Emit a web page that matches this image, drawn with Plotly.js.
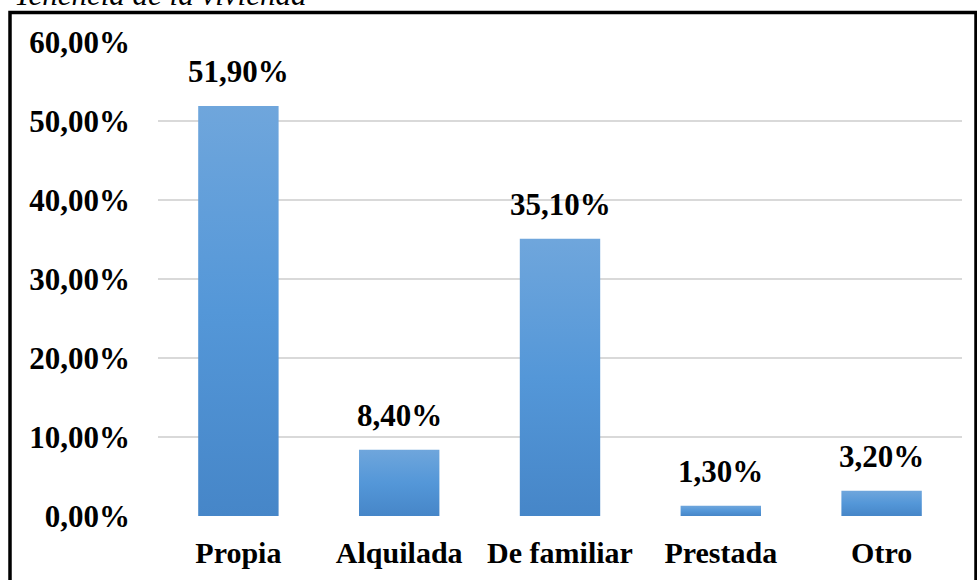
<!DOCTYPE html>
<html>
<head>
<meta charset="utf-8">
<script src="https://cdn.plot.ly/plotly-3.0.1.min.js"></script>
<style>
  html, body { margin: 0; padding: 0; background: #fff; }
  #chart { width: 977px; height: 580px; }
</style>
</head>
<body>
<div id="chart"></div>
<script>
const categories = ["Propia", "Alquilada", "De familiar", "Prestada", "Otro"];
const percents = [51.9, 8.4, 35.1, 1.3, 3.2];
const yTicks = [0, 10, 20, 30, 40, 50, 60];

const FONT = "'Liberation Serif', 'Times New Roman', serif";

const fmt = v => v.toFixed(2).replace(".", ",") + "%";

const trace = {
  type: "bar",
  x: categories,
  y: percents,
  marker: { color: "#5b9bd5", line: { width: 0 } },
  hoverinfo: "none",
};

// labels sit a bit higher than plotly's "outside" text, so use annotations
const labels = categories.map((c, i) => ({
  x: c,
  y: percents[i],
  text: "<b>" + fmt(percents[i]) + "</b>",
  showarrow: false,
  yanchor: "bottom",
  yshift: 15,
  font: { family: FONT, size: 31, color: "#000" },
}));

labels.push({
  xref: "paper", yref: "paper",
  x: -0.181, y: 1.059,
  xanchor: "left", yanchor: "bottom",
  text: "<i>Tenencia de la vivienda</i>",
  showarrow: false,
  font: { family: FONT, size: 31, color: "#000" },
});

const layout = {
  width: 977,
  height: 580,
  margin: { l: 158, r: 15, t: 42, b: 64 },
  paper_bgcolor: "#fff",
  plot_bgcolor: "#fff",
  separators: ",.",
  bargap: 0.5,
  showlegend: false,
  font: { family: FONT, size: 30, color: "#000" },
  xaxis: {
    type: "category",
    showgrid: false,
    showline: false,
    ticks: "",
    tickfont: { family: FONT, size: 30, color: "#000", weight: "bold" },
    ticklabelstandoff: 16,
  },
  yaxis: {
    range: [0, 60],
    tickvals: yTicks,
    ticktext: yTicks.map(t => "<b>" + fmt(t) + "</b>"),
    showgrid: true,
    gridcolor: "#d9d9d9",
    gridwidth: 2,
    zeroline: false,
    showline: false,
    ticks: "",
    tickfont: { family: FONT, size: 31, color: "#000" },
    ticklabelstandoff: 27,
  },
  annotations: labels,
  shapes: [{
    type: "rect",
    xref: "paper", yref: "paper",
    x0: (10 - 158) / 804, x1: (976 - 158) / 804,
    y0: -0.3, y1: (516 - 12.5) / 474,
    line: { color: "#000", width: 3.5 },
    fillcolor: "rgba(0,0,0,0)",
  }],
};

Plotly.newPlot("chart", [trace], layout, { staticPlot: true }).then(gd => {
  // vertical gradient on the bars, like the original office chart
  const svg = gd.querySelector("svg.main-svg");
  const ns = "http://www.w3.org/2000/svg";
  let defs = svg.querySelector("defs");
  if (!defs) {
    defs = document.createElementNS(ns, "defs");
    svg.insertBefore(defs, svg.firstChild);
  }
  const grad = document.createElementNS(ns, "linearGradient");
  grad.setAttribute("id", "barGrad");
  grad.setAttribute("x1", "0"); grad.setAttribute("y1", "0");
  grad.setAttribute("x2", "0"); grad.setAttribute("y2", "1");
  [["0%", "#6fa6dc"], ["50%", "#5497d8"], ["100%", "#4686c8"]].forEach(([o, c]) => {
    const s = document.createElementNS(ns, "stop");
    s.setAttribute("offset", o);
    s.setAttribute("stop-color", c);
    grad.appendChild(s);
  });
  defs.appendChild(grad);
  gd.querySelectorAll(".bars .point path").forEach(p => {
    p.style.fill = "url(#barGrad)";
  });
});
</script>
</body>
</html>
